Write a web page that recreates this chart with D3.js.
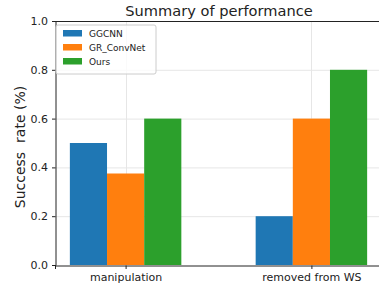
<!DOCTYPE html>
<meta charset="utf-8">
<style>
body { margin: 0; background: #fff; }
text { font-family: "DejaVu Sans", sans-serif; fill: #222; }
.grid line { stroke: #e6e6e6; stroke-width: 1; }
</style>
<body>
<div id="chart"></div>
<script src="https://cdn.jsdelivr.net/npm/d3@7"></script>
<script>
// data
var categories = ["manipulation", "removed from WS"];
var seriesNames = ["GGCNN", "GR_ConvNet", "Ours"];
var ggcnn = [0.5, 0.2];
var grConvNet = [0.375, 0.6];
var ours = [0.6, 0.8];
var yTicks = [0, 0.2, 0.4, 0.6, 0.8, 1.0];
var colors = ["#1f77b4", "#ff7f0e", "#2ca02c"];

var W = 379, H = 283;
var mLeft = 55, mTop = 21, mBottom = 265, mRight = 382;
var barW = 0.2;

var svg = d3.select("#chart").append("svg")
    .attr("width", W).attr("height", H);

var x = d3.scaleLinear().domain([-0.38, 1.38]).range([mLeft, mRight]);
var y = d3.scaleLinear().domain([0, 1]).range([mBottom, mTop]);

// grid
var grid = svg.append("g").attr("class", "grid");
grid.selectAll(".hy").data(yTicks.slice(1)).enter().append("line")
    .attr("x1", mLeft).attr("x2", mRight)
    .attr("y1", function(d) { return y(d) + 0.5; })
    .attr("y2", function(d) { return y(d) + 0.5; });
grid.selectAll(".vx").data(categories).enter().append("line")
    .attr("x1", function(d, i) { return Math.round(x(i)) + 0.5; })
    .attr("x2", function(d, i) { return Math.round(x(i)) + 0.5; })
    .attr("y1", mTop).attr("y2", mBottom);

// bars
var series = [ggcnn, grConvNet, ours];
series.forEach(function(vals, s) {
    svg.append("g").selectAll("rect").data(vals).enter().append("rect")
        .attr("x", function(d, i) { return x(i + (s - 1) * barW - barW / 2); })
        .attr("width", x(barW) - x(0))
        .attr("y", function(d) { return y(d); })
        .attr("height", function(d) { return mBottom - y(d); })
        .attr("fill", colors[s]);
});

// axes
var yAxis = d3.axisLeft(y).tickValues(yTicks).tickFormat(d3.format(".1f")).tickSizeOuter(0).tickSize(3.5).tickPadding(4);
var gy = svg.append("g").attr("transform", "translate(" + (mLeft + 0.5) + ",0)").call(yAxis);
var xAxis = d3.axisBottom(x).tickValues([0, 1]).tickFormat(function(d) { return categories[d]; }).tickSizeOuter(0).tickSize(3.5).tickPadding(4);
var gx = svg.append("g").attr("transform", "translate(0," + (mBottom + 0.5) + ")").call(xAxis);
[gx, gy].forEach(function(g) {
    g.selectAll("text").style("font-size", "11px").style("fill", "#222");
    g.selectAll("line,path").attr("stroke", "#222");
});
svg.append("line").attr("x1", mLeft).attr("x2", mRight)
    .attr("y1", mTop + 0.5).attr("y2", mTop + 0.5).attr("stroke", "#222");

// title and label
svg.append("text").attr("x", 219).attr("y", 16)
    .attr("text-anchor", "middle").style("font-size", "14.6px")
    .text("Summary of performance");
svg.append("text")
    .attr("transform", "translate(25,147) rotate(-90)")
    .attr("text-anchor", "middle").style("font-size", "14px")
    .attr("xml:space", "preserve")
    .text("Success  rate (%)");

// legend
var lg = svg.append("g").attr("transform", "translate(56,25)");
lg.append("rect").attr("width", 100).attr("height", 49).attr("rx", 2)
    .attr("fill", "#fff").attr("fill-opacity", 0.8).attr("stroke", "#ccc");
seriesNames.forEach(function(n, i) {
    lg.append("rect").attr("x", 7).attr("y", 5 + i * 14).attr("width", 19).attr("height", 6.5)
        .attr("fill", colors[i]);
    lg.append("text").attr("x", 33).attr("y", 11.5 + i * 14)
        .style("font-size", "9px").text(n);
});
</script>
</body>
